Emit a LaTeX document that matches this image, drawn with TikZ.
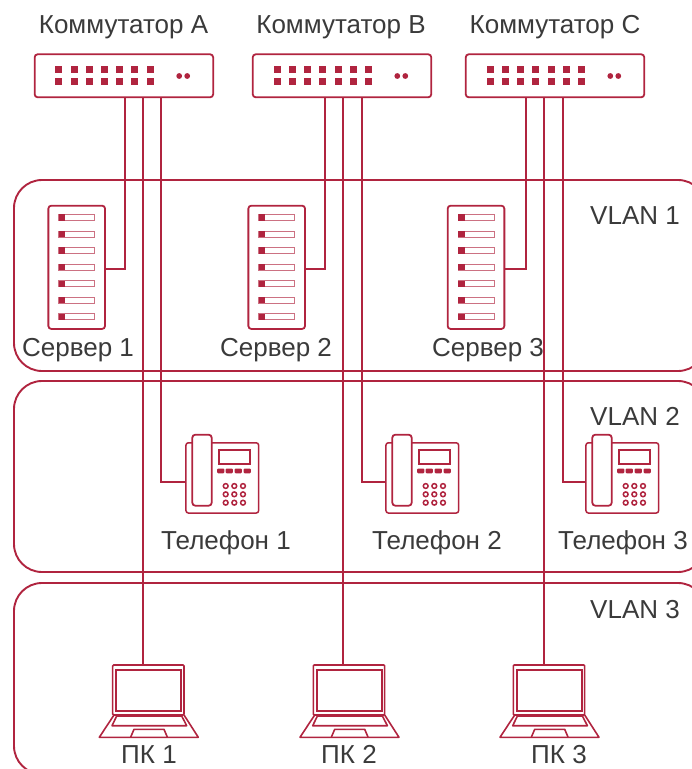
\documentclass[tikz,border=0pt]{standalone}
\usepackage{fontspec}
\setmainfont{Liberation Sans}
\definecolor{wine}{HTML}{B0243F}
\definecolor{ink}{HTML}{3A3A3A}
\tikzset{
  link/.style={draw=wine,line width=1.9pt},
  icon/.style={draw=wine,line width=1.8pt,inner sep=0pt,outer sep=0pt,rectangle},
  thin icon/.style={draw=wine,line width=1.6pt},
  panel/.style={draw=wine,line width=1.9pt,inner sep=0pt,outer sep=0pt,rectangle,rounded corners=28pt,minimum width=692pt},
  lbl/.style={text=ink,font=\fontsize{26}{28}\selectfont,inner sep=0pt,anchor=base},
}
\newcommand{\switchicon}[2]{%
  \node[icon,rounded corners=3pt,minimum width=178.5pt,minimum height=43pt] (#1) at (#2) {};
  \begin{scope}[shift={(#1.center)}]
    \foreach \dx in {-65,-49.7,-34.7,-19.3,-4,11,26.3}{
      \fill[wine] (\dx-3.5,-10.2) rectangle (\dx+3.5,-3.2);
      \fill[wine] (\dx-3.5,2.2) rectangle (\dx+3.5,9.2);
    }
    \fill[wine] (55.3,0.2) circle (2.9pt) (63.3,0.2) circle (2.9pt);
  \end{scope}}
\newcommand{\servericon}[2]{%
  \node[icon,rounded corners=3pt,minimum width=56.7pt,minimum height=123.3pt] (#1) at (#2) {};
  \begin{scope}[shift={(#1.center)}]
    \foreach \dy in {-50,-33.3,-17,-0.3,16.4,32.7,49.4}{
      \draw[wine!65,line width=1pt] (-18,\dy-3) rectangle (18,\dy+3);
      \fill[wine] (-18,\dy-3.2) rectangle (-11.4,\dy+3.2);
    }
  \end{scope}}
\newcommand{\phoneicon}[2]{%
  \node[icon,line width=1.5pt,rounded corners=2.5pt,minimum width=72.7pt,minimum height=70.3pt] (#1) at (#2) {};
  \begin{scope}[shift={(#1.center)}]
    \filldraw[thin icon,line width=1.8pt,fill=white,rounded corners=3pt] (-30,-43.2) rectangle (-10.6,27.8);
    \draw[thin icon,line width=1.7pt] (-3.3,-27.6) rectangle (27.7,-14.2);
    \foreach \dx in {-1.6,7,16,25}{
      \fill[wine,rounded corners=1pt] (\dx-3.6,-9.4) rectangle (\dx+3.6,-4.6);
    }
    \foreach \dx in {3.4,12,20.7}\foreach \dy in {8.1,16.4,24.8}{
      \draw[wine,line width=1.5pt] (\dx,\dy) circle (2.4pt);
    }
  \end{scope}}
\newcommand{\laptopicon}[2]{%
  \node[icon,line width=1.6pt,rounded corners=1pt,minimum width=71.3pt,minimum height=50pt] (#1) at (#2) {};
  \begin{scope}[shift={(#1.center)}]
    \draw[thin icon] (-32.3,-20) rectangle (32.7,21);
    \draw[thin icon,line join=round] (-34.3,25) -- (-49,47.3) -- (50,47.3) -- (35.7,25);
    \draw[thin icon,line join=round] (-31.6,26) -- (-36.3,35.7) -- (38.4,35.7) -- (33.4,26) -- cycle;
    \draw[thin icon,line join=round] (-17.6,47) -- (-14.3,39.3) -- (15.7,39.3) -- (19,47);
  \end{scope}}
\begin{document}
\begin{tikzpicture}[x=1pt,y=-1pt]
\useasboundingbox (0,0) rectangle (692,769);
\clip (0,0) rectangle (692,769);
\node[panel,minimum height=191pt] (vlanA) at (360,275.5) {};
\node[panel,minimum height=191pt] (vlanB) at (360,476.5) {};
\node[panel,minimum height=191pt] (vlanC) at (360,678.5) {};

\switchicon{swA}{123.9,75.8}
\switchicon{swB}{342,75.8}
\switchicon{swC}{555,75.8}

\servericon{srvA}{76.7,267.3}
\servericon{srvB}{276.7,267.3}
\servericon{srvC}{476,267.3}

\phoneicon{phA}{222.3,477.9}
\phoneicon{phB}{422.3,477.9}
\phoneicon{phC}{622.3,477.9}

\laptopicon{lapA}{148.3,690}
\laptopicon{lapB}{349,690}
\laptopicon{lapC}{549,690}

\coordinate (pA1) at (125,97); \coordinate (pA2) at (143,97); \coordinate (pA3) at (161,97);
\coordinate (pB1) at (325,97); \coordinate (pB2) at (343,97); \coordinate (pB3) at (362,97);
\coordinate (pC1) at (526,97); \coordinate (pC2) at (544,97); \coordinate (pC3) at (563,97);

\draw[link] (pA1) |- ([yshift=-1.7pt]srvA.east);
\draw[link] (pB1) |- ([yshift=-1.7pt]srvB.east);
\draw[link] (pC1) |- ([yshift=-1.7pt]srvC.east);
\draw[link] (pA3) |- ([yshift=-3.8pt]phA.west);
\draw[link] (pB3) |- ([yshift=-3.8pt]phB.west);
\draw[link] (pC3) |- ([yshift=-3.8pt]phC.west);
\draw[link] (pA2) -- (pA2 |- lapA.north);
\draw[link] (pB2) -- (pB2 |- lapB.north);
\draw[link] (pC2) -- (pC2 |- lapC.north);

\node[lbl] (tSwA) at (123.5,33.5) {Коммутатор А};
\node[lbl] (tSwB) at (341,33.5) {Коммутатор В};
\node[lbl] (tSwC) at (555,33.5) {Коммутатор С};
\node[lbl] (tV1) at (635,224) {VLAN 1};
\node[lbl] (tV2) at (635,425) {VLAN 2};
\node[lbl] (tV3) at (635,618) {VLAN 3};
\node[lbl] (tS1) at (78,356) {Сервер 1};
\node[lbl] (tS2) at (276,356) {Сервер 2};
\node[lbl] (tS3) at (488,356) {Сервер 3};
\node[lbl] (tT1) at (226,549.5) {Телефон 1};
\node[lbl] (tT2) at (437,549.5) {Телефон 2};
\node[lbl] (tT3) at (623,549.5) {Телефон 3};
\node[lbl] (tP1) at (149,763) {ПК 1};
\node[lbl] (tP2) at (349,763) {ПК 2};
\node[lbl] (tP3) at (559,763) {ПК 3};
\end{tikzpicture}
\end{document}
